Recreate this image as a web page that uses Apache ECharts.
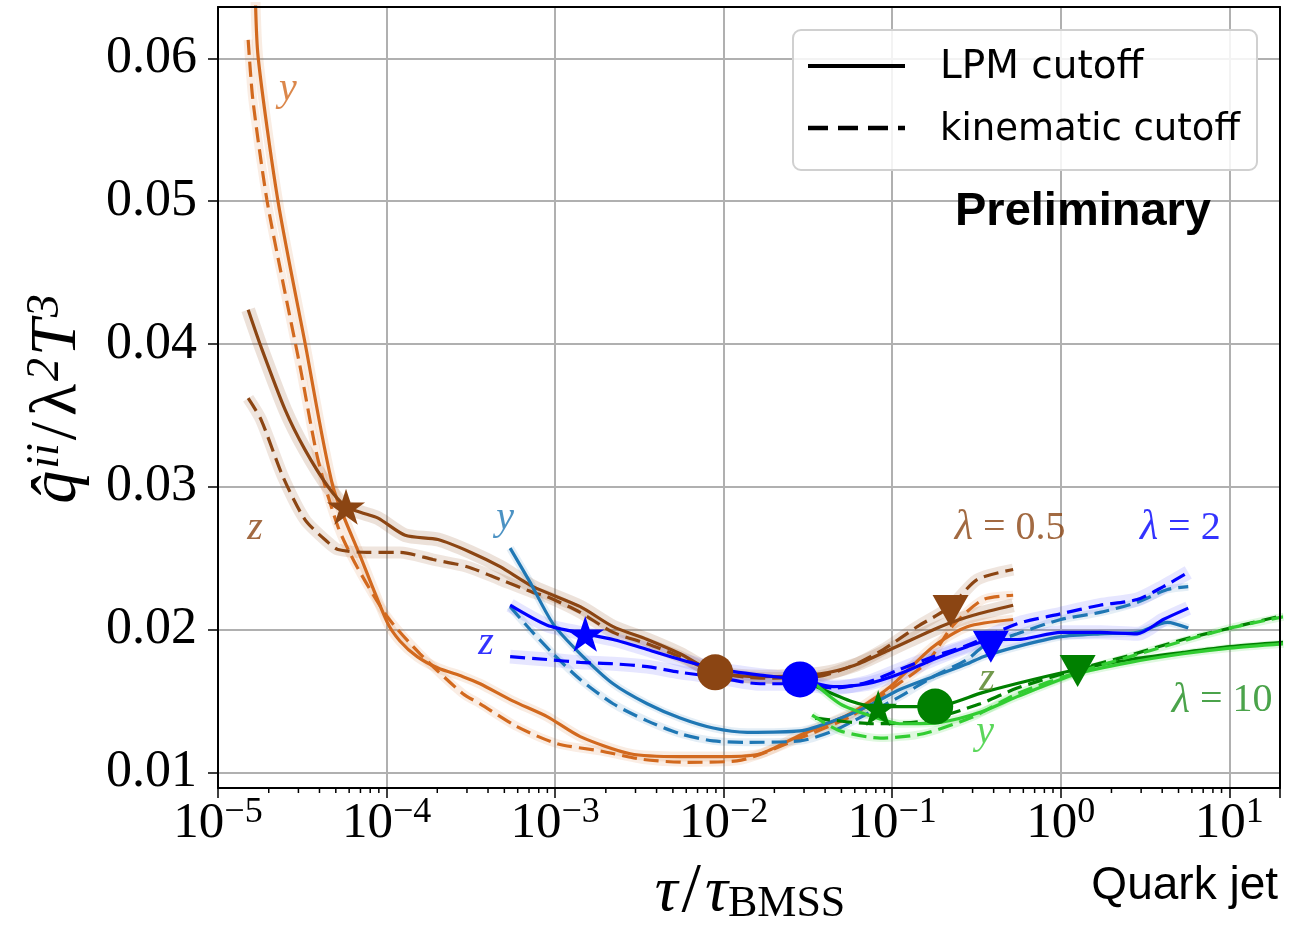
<!DOCTYPE html>
<html>
<head>
<meta charset="utf-8">
<script src="https://cdn.jsdelivr.net/npm/echarts@6/dist/echarts.min.js"></script>
<style>
html, body { margin: 0; padding: 0; background: #fff; }
#chart { width: 1303px; height: 931px; }
</style>
</head>
<body>
<div id="chart"></div>
<script>
// 坐标轴范围
const xMin = 1e-5, xMax = 20;
const yMin = 0.0089, yMax = 0.0636;
const yTicks = [0.01, 0.02, 0.03, 0.04, 0.05, 0.06];
const xDecades = [1e-5, 1e-4, 1e-3, 1e-2, 1e-1, 1, 10];

// lambda = 0.5 (z: 深棕, y: 橙)
const brownZSolid = [[1.51e-5,0.0424],[1.80e-5,0.0398],[2.50e-5,0.0354],[3.28e-5,0.0326],[4.50e-5,0.0300],[5.75e-5,0.0286],[7.06e-5,0.0282],[8.91e-5,0.0278],[1.29e-4,0.0266],[2.02e-4,0.0263],[3.17e-4,0.0254],[4.72e-4,0.0244],[7.40e-4,0.0230],[1.41e-3,0.0216],[2.21e-3,0.0202],[3.52e-3,0.0193],[5.52e-3,0.0183],[8.91e-3,0.0170],[1.65e-2,0.0167],[3.74e-2,0.0169],[6.0e-2,0.0175],[9.73e-2,0.0186],[0.193,0.0202],[0.303,0.0210],[0.522,0.0217]];
const brownZDashed = [[1.51e-5,0.0362],[1.80e-5,0.0347],[2.43e-5,0.0307],[3.28e-5,0.0277],[4.50e-5,0.0261],[5.15e-5,0.0256],[7.66e-5,0.0254],[1.20e-4,0.0254],[1.89e-4,0.0249],[3.01e-4,0.0244],[4.72e-4,0.0235],[7.40e-4,0.0226],[8.97e-4,0.0223],[1.41e-3,0.0212],[2.21e-3,0.0198],[3.52e-3,0.0190],[5.52e-3,0.0181],[8.91e-3,0.0170],[1.65e-2,0.0166],[3.59e-2,0.0167],[5.64e-2,0.0174],[8.85e-2,0.0186],[0.141,0.0202],[0.221,0.0216],[0.319,0.0235],[0.522,0.0242]];
const orangeYSolid = [[1.66e-5,0.0652],[1.73e-5,0.0601],[2.27e-5,0.0500],[3.28e-5,0.0401],[4.81e-5,0.0300],[7.06e-5,0.0250],[1.01e-4,0.0205],[1.20e-4,0.0192],[1.52e-4,0.0181],[2.02e-4,0.0173],[2.84e-4,0.0167],[3.59e-4,0.0162],[5.6e-4,0.0150],[8.97e-4,0.0139],[1.41e-3,0.0125],[2.79e-3,0.0113],[5.52e-3,0.0111],[1.01e-2,0.0111],[1.65e-2,0.0113],[2.84e-2,0.0126],[5.64e-2,0.0141],[9.73e-2,0.0160],[0.175,0.0188],[0.279,0.0202],[0.522,0.0207]];
const orangeYDashed = [[1.51e-5,0.0613],[1.61e-5,0.0571],[1.95e-5,0.0501],[2.43e-5,0.0443],[3.07e-5,0.0384],[3.92e-5,0.0319],[5.15e-5,0.0272],[6.68e-5,0.0244],[1.01e-4,0.0209],[1.58e-4,0.0183],[2.84e-4,0.0155],[3.59e-4,0.0148],[5.94e-4,0.0132],[1.03e-3,0.0120],[1.85e-3,0.0115],[3.33e-3,0.0109],[6.0e-3,0.0107],[1.2e-2,0.0108],[2.84e-2,0.0124],[5.64e-2,0.0139],[9.73e-2,0.0158],[0.161,0.0177],[0.230,0.0203],[0.347,0.0221],[0.522,0.0224]];

// lambda = 2 (z: 蓝, y: 钢蓝)
const blueZSolid = [[5.41e-4,0.0217],[8.97e-4,0.0203],[1.51e-3,0.0197],[2.21e-3,0.0193],[3.52e-3,0.0186],[5.52e-3,0.0179],[8.67e-3,0.0173],[1.65e-2,0.0168],[2.84e-2,0.0165],[4.47e-2,0.0160],[7.11e-2,0.0162],[0.111,0.0169],[0.175,0.0179],[0.279,0.0188],[0.397,0.0193],[0.552,0.0193],[1.0,0.0198],[1.71,0.0198],[2.84,0.0197],[4.06,0.0207],[5.71,0.0215]];
const blueZDashed = [[5.41e-4,0.0181],[8.97e-4,0.0179],[1.41e-3,0.0177],[2.21e-3,0.0176],[3.52e-3,0.0174],[5.52e-3,0.0170],[8.67e-3,0.0167],[1.65e-2,0.0162],[2.84e-2,0.0162],[4.47e-2,0.0159],[7.11e-2,0.0163],[0.111,0.0172],[0.175,0.0181],[0.279,0.0189],[0.552,0.0204],[1.0,0.0211],[1.71,0.0217],[2.84,0.0221],[4.06,0.0230],[5.71,0.0240]];
const steelYSolid = [[5.41e-4,0.0257],[7.11e-4,0.0233],[9.73e-4,0.0204],[1.41e-3,0.0183],[2.21e-3,0.0162],[3.52e-3,0.0148],[5.52e-3,0.0138],[8.67e-3,0.0131],[1.38e-2,0.0128],[2.84e-2,0.0129],[4.47e-2,0.0136],[7.11e-2,0.0146],[0.111,0.0158],[0.175,0.0167],[0.279,0.0176],[0.347,0.0181],[0.552,0.0188],[1.0,0.0195],[1.71,0.0197],[2.84,0.0198],[4.29,0.0205],[5.71,0.0201]];
const steelYDashed = [[5.41e-4,0.0216],[7.11e-4,0.0200],[9.73e-4,0.0183],[1.41e-3,0.0165],[2.21e-3,0.0148],[3.52e-3,0.0136],[5.52e-3,0.0127],[8.67e-3,0.0122],[1.38e-2,0.0121],[2.84e-2,0.0122],[4.47e-2,0.0129],[7.11e-2,0.0141],[0.111,0.0153],[0.175,0.0167],[0.279,0.0179],[0.347,0.0188],[0.552,0.0197],[1.0,0.0207],[1.71,0.0212],[2.84,0.0219],[4.29,0.0228],[5.71,0.0230]];

// lambda = 10 (z: 深绿, y: 浅绿)
const greenZSolid = [[3.26e-2,0.0162],[5.64e-2,0.0150],[8.15e-2,0.0146],[0.180,0.0146],[0.347,0.0156],[0.687,0.0165],[1.25,0.0172],[2.58,0.0179],[5.33,0.0184],[10.1,0.0188],[21,0.0191]];
const greenYSolid = [[3.26e-2,0.0165],[4.91e-2,0.0148],[7.71e-2,0.0139],[0.111,0.0134],[0.193,0.0135],[0.333,0.0142],[0.552,0.0153],[1.25,0.0169],[2.58,0.0177],[5.33,0.0183],[10.1,0.0187],[21,0.0190]];
const greenZDashed = [[3.49e-2,0.0138],[7.71e-2,0.0134],[0.153,0.0136],[0.333,0.0148],[0.552,0.0159],[1.25,0.0172],[2.58,0.0182],[5.33,0.0193],[10.1,0.0201],[21,0.0210]];
const greenYDashed = [[3.35e-2,0.0140],[4.91e-2,0.0129],[8.49e-2,0.0124],[0.153,0.0127],[0.303,0.0139],[0.552,0.0155],[1.25,0.0170],[2.58,0.0181],[5.33,0.0192],[10.1,0.0201],[21,0.0209]];

// 标记点 [x, y]
const brownMarks = { star: [5.75e-5, 0.0286], circle: [8.91e-3, 0.0170], tri: [0.222, 0.0213] };
const blueMarks = { star: [1.51e-3, 0.0197], circle: [2.84e-2, 0.0165], tri: [0.385, 0.0188] };
const greenMarks = { star: [8.26e-2, 0.0145], circle: [0.180, 0.0146], tri: [1.26, 0.0171] };

// 曲线旁的文字 [x, y, 文本, 颜色, 是否斜体]
const annotations = [
	[2.60e-5, 0.0578, "y", "#d2691e", true],
	[1.66e-5, 0.0271, "z", "#8b4513", true],
	[5.05e-4, 0.0278, "y", "#1f77b4", true],
	[3.89e-4, 0.0190, "z", "#0000ff", true],
	[0.366, 0.0165, "z", "#4f7f1f", true],
	[0.356, 0.0128, "y", "#32cd32", true],
	[0.501, 0.0271, "{g|λ} = 0.5", "#8b4513", false],
	[5.12, 0.0271, "{g|λ} = 2", "#0000ff", false],
	[9.08, 0.0150, "{g|λ} = 10", "#1e8c1e", false],
];

// 次刻度 2..9 x 10^k
const minorTicks = [];
xDecades.forEach((d) => {
	for (let m = 2; m <= 9; m++) {
		if (d * m < xMax) minorTicks.push([d * m, 0.02]);
	}
});

const serif = "Liberation Serif";
const starPath = "path://M50,2 L61.2,36.3 L97.6,36.3 L68.2,57.5 L79.4,91.8 L50,70.6 L20.6,91.8 L31.8,57.5 L2.4,36.3 L38.8,36.3 Z";
const dash = [15, 7];

function curve(data, color, dashed) {
	return {
		type: "line",
		data: data,
		symbol: "none",
		smooth: 0.25,
		clip: true,
		z: 3,
		silent: true,
		lineStyle: { color: color, width: 3.2, type: dashed ? dash : "solid" },
	};
}
function band(data, color, width) {
	return {
		type: "line",
		data: data,
		symbol: "none",
		smooth: 0.25,
		clip: true,
		z: 2,
		silent: true,
		lineStyle: { color: color, width: width },
	};
}
function marks(m, color) {
	return [
		{ type: "scatter", data: [m.star], symbol: starPath, symbolSize: 38, symbolKeepAspect: true, itemStyle: { color: color, opacity: 1 }, z: 5, silent: true },
		{ type: "scatter", data: [m.circle], symbol: "circle", symbolSize: 36, itemStyle: { color: color, opacity: 1 }, z: 5, silent: true },
		{ type: "scatter", data: [m.tri], symbol: "triangle", symbolRotate: 180, symbolSize: [36, 32], itemStyle: { color: color, opacity: 1 }, z: 5, silent: true },
	];
}

let chart = echarts.init(document.getElementById("chart"));

const option = {
	animation: false,
	backgroundColor: "#fff",
	grid: { left: 218, right: 23, top: 7, bottom: 143 },
	xAxis: [
		{
			type: "log",
			logBase: 10,
			min: xMin,
			max: xMax,
			axisLine: { show: true, lineStyle: { color: "#000", width: 2 } },
			axisTick: { show: true, length: 10, lineStyle: { color: "#000", width: 1.5 } },
			splitLine: { show: true, lineStyle: { color: "#b0b0b0", width: 2 } },
			axisLabel: {
				margin: 7,
				formatter: function (v) {
					const l = Math.log10(v);
					const e = Math.round(l);
					if (Math.abs(l - e) > 1e-6) return "";
					return "{b|10}{s|" + (e < 0 ? "\u2212" : "") + Math.abs(e) + "}";
				},
				rich: {
					b: { fontFamily: serif, fontSize: 51, lineHeight: 58, color: "#000" },
					s: { fontFamily: serif, fontSize: 36, lineHeight: 28, verticalAlign: "top", color: "#000" },
				},
			},
		},
		{
			type: "log",
			logBase: 10,
			min: xMin,
			max: xMax,
			position: "top",
			z: 6,
			axisLine: { show: true, lineStyle: { color: "#000", width: 2 } },
			axisTick: { show: false },
			axisLabel: { show: false },
			splitLine: { show: false },
		},
	],
	yAxis: [
		{
			type: "value",
			min: yMin,
			max: yMax,
			axisLine: { show: true, lineStyle: { color: "#000", width: 2 } },
			axisTick: { show: true, length: 10, customValues: yTicks, lineStyle: { color: "#000", width: 1.5 } },
			splitLine: { show: true, lineStyle: { color: "#b0b0b0", width: 2 } },
			axisLabel: {
				customValues: yTicks,
				margin: 21,
				fontFamily: serif,
				fontSize: 52,
				color: "#000",
				formatter: (v) => v.toFixed(2),
			},
		},
		{
			type: "value",
			min: yMin,
			max: yMax,
			position: "right",
			z: 6,
			axisLine: { show: true, lineStyle: { color: "#000", width: 2 } },
			axisTick: { show: false },
			axisLabel: { show: false },
			splitLine: { show: false },
		},
	],
	series: [
		// 误差带 (半透明)
		band(brownZSolid, "rgba(139,69,19,0.16)", 14),
		band(brownZDashed, "rgba(139,69,19,0.14)", 12),
		band(orangeYSolid, "rgba(210,105,30,0.13)", 10),
		band(orangeYDashed, "rgba(210,105,30,0.12)", 9),
		band(blueZSolid, "rgba(60,60,255,0.13)", 14),
		band(blueZDashed, "rgba(60,60,255,0.13)", 14),
		band(steelYSolid, "rgba(31,119,180,0.12)", 8),
		band(steelYDashed, "rgba(31,119,180,0.12)", 8),
		band(greenYSolid, "rgba(50,205,50,0.15)", 8),
		band(greenYDashed, "rgba(50,205,50,0.15)", 8),
		// 曲线
		curve(orangeYSolid, "#d2691e", false),
		curve(orangeYDashed, "#d2691e", true),
		curve(brownZSolid, "#8b4513", false),
		curve(brownZDashed, "#8b4513", true),
		curve(steelYSolid, "#1f77b4", false),
		curve(steelYDashed, "#1f77b4", true),
		curve(blueZSolid, "#0000ff", false),
		curve(blueZDashed, "#0000ff", true),
		curve(greenZSolid, "#008000", false),
		curve(greenZDashed, "#008000", true),
		curve(greenYSolid, "#32cd32", false),
		curve(greenYDashed, "#32cd32", true),
		...marks(brownMarks, "#8b4513"),
		...marks(blueMarks, "#0000ff"),
		...marks(greenMarks, "#008000"),
		// 文字标注
		{
			type: "scatter",
			symbolSize: 0,
			silent: true,
			z: 7,
			data: annotations.map((a) => ({
				value: [a[0], a[1]],
				label: {
					formatter: a[2],
					color: a[3],
					fontStyle: a[4] ? "italic" : "normal",
					fontSize: 40,
					rich: { g: { fontFamily: serif, fontSize: 42, fontStyle: "italic", color: a[3] } },
				},
			})),
			label: {
				show: true,
				position: "inside",
				fontFamily: serif,
			},
		},
		// x 轴次刻度
		{
			type: "custom",
			silent: true,
			z: 6,
			data: minorTicks,
			renderItem: function (params, api) {
				const x = api.coord([api.value(0), api.value(1)])[0];
				const y0 = params.coordSys.y + params.coordSys.height;
				return {
					type: "line",
					shape: { x1: x, y1: y0, x2: x, y2: y0 + 5 },
					style: { stroke: "#000", lineWidth: 1.5 },
				};
			},
		},
	],
	graphic: [
		// 图例
		{ type: "rect", z: 20, shape: { x: 793, y: 30, width: 464, height: 140, r: 8 }, style: { fill: "rgba(255,255,255,0.85)", stroke: "#d0d0d0", lineWidth: 2 } },
		{ type: "line", z: 21, shape: { x1: 808, y1: 66, x2: 905, y2: 66 }, style: { stroke: "#000", lineWidth: 4 } },
		{ type: "line", z: 21, shape: { x1: 808, y1: 128, x2: 905, y2: 128 }, style: { stroke: "#000", lineWidth: 4.5, lineDash: [20, 10] } },
		{ type: "text", z: 21, x: 940, y: 68, style: { text: "LPM cutoff", fontFamily: "DejaVu Sans", fontSize: 39, fill: "#000", verticalAlign: "middle" } },
		{ type: "text", z: 21, x: 940, y: 130, style: { text: "kinematic cutoff", fontFamily: "DejaVu Sans", fontSize: 37, fill: "#000", verticalAlign: "middle" } },
		{ type: "text", z: 21, x: 1083, y: 212, style: { text: "Preliminary", fontFamily: "Liberation Sans", fontWeight: "bold", fontSize: 47, fill: "#000", align: "center", verticalAlign: "middle" } },
		{ type: "text", z: 21, x: 1278, y: 886, style: { text: "Quark jet", fontFamily: "Liberation Sans", fontSize: 46, fill: "#000", align: "right", verticalAlign: "middle" } },
		// 坐标轴标题
		{
			type: "text",
			z: 21,
			x: 750,
			y: 893,
			style: {
				text: "{i|τ}{n|/}{i|τ}{sub|BMSS}",
				align: "center",
				verticalAlign: "middle",
				rich: {
					i: { fontFamily: serif, fontStyle: "italic", fontSize: 64, lineHeight: 66, fill: "#000" },
					n: { fontFamily: serif, fontSize: 70, lineHeight: 66, fill: "#000", padding: [0, 4, 0, 4] },
					sub: { fontFamily: serif, fontSize: 44, lineHeight: 36, verticalAlign: "bottom", fill: "#000" },
				},
			},
		},
		{
			type: "text",
			z: 21,
			x: 58,
			y: 400,
			rotation: Math.PI / 2,
			style: {
				text: "{i|q\u0302}{sup|ii}{n|/}{n|λ}{sup|2}{i|T}{sup|3}",
				align: "center",
				verticalAlign: "middle",
				rich: {
					i: { fontFamily: serif, fontStyle: "italic", fontSize: 66, lineHeight: 70, fill: "#000", padding: [0, 2, 0, 2] },
					n: { fontFamily: serif, fontSize: 66, lineHeight: 70, fill: "#000", padding: [0, 3, 0, 3] },
					sup: { fontFamily: serif, fontStyle: "italic", fontSize: 46, lineHeight: 36, verticalAlign: "top", fill: "#000" },
				},
			},
		},
	],
};

chart.setOption(option);
</script>
</body>
</html>
